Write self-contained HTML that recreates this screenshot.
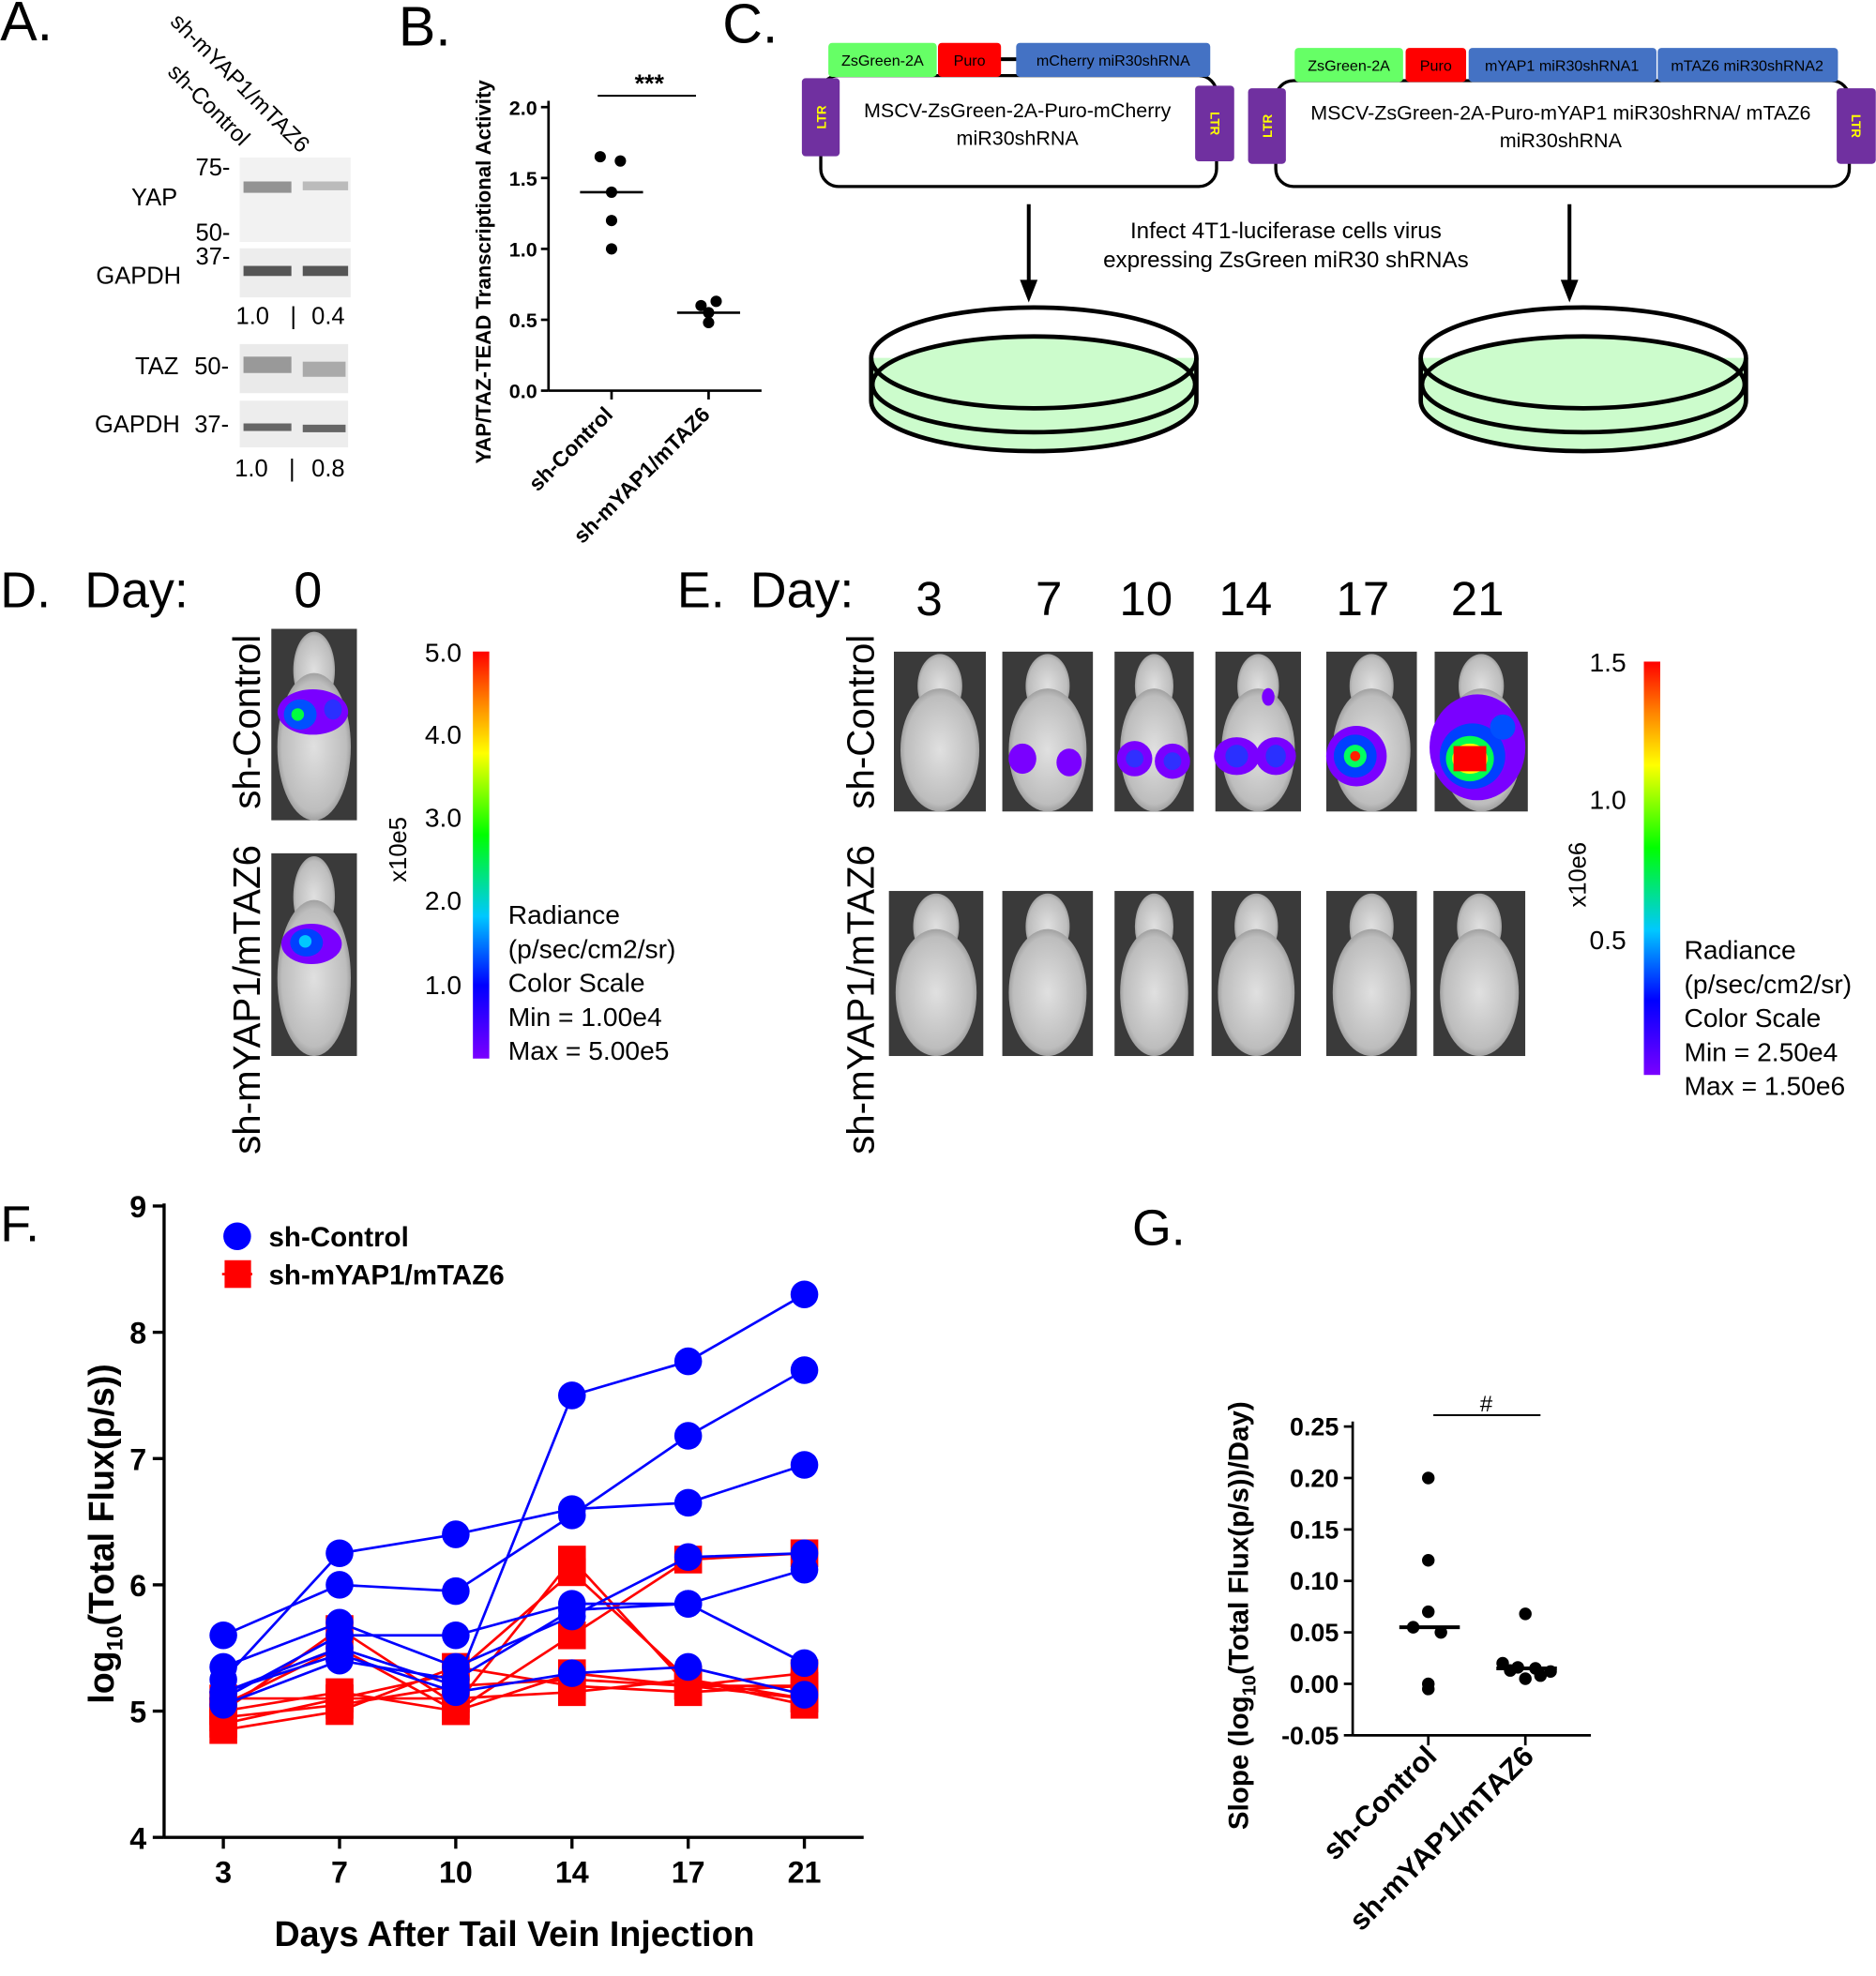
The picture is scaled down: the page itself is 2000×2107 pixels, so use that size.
<!DOCTYPE html>
<html><head><meta charset="utf-8"><style>
html,body{margin:0;padding:0;background:#fff}
svg{display:block}
text{font-family:"Liberation Sans",sans-serif}
</style></head><body>
<svg id="fig" width="2000" height="2107" viewBox="0 0 1488 1568" xmlns="http://www.w3.org/2000/svg">
<defs>
<linearGradient id="cbar" x1="0" y1="1" x2="0" y2="0">
<stop offset="0" stop-color="#7a00ff"/><stop offset="0.18" stop-color="#0000ff"/><stop offset="0.35" stop-color="#00c8ff"/><stop offset="0.55" stop-color="#00ff00"/><stop offset="0.75" stop-color="#ffff00"/><stop offset="0.88" stop-color="#ff8000"/><stop offset="1" stop-color="#ff0000"/>
</linearGradient>
<radialGradient id="mouse" cx="0.5" cy="0.5" r="0.55"><stop offset="0" stop-color="#e0e0e0"/><stop offset="0.8" stop-color="#bdbdbd"/><stop offset="1" stop-color="#8a8a8a"/></radialGradient>
<symbol id="mouseimg" viewBox="0 0 70 130" preserveAspectRatio="none">
<rect x="0" y="0" width="70" height="130" fill="#3a3a3a"/>
<ellipse cx="35" cy="28" rx="17" ry="26" fill="url(#mouse)"/>
<ellipse cx="35" cy="80" rx="30" ry="50" fill="url(#mouse)"/>
</symbol>
</defs>

<!-- Panel A -->
<g>
<text x="0" y="32" font-size="44">A.</text>
<text transform="translate(134,18) rotate(45)" font-size="18">sh-mYAP1/mTAZ6</text>
<text transform="translate(132,58) rotate(45)" font-size="18">sh-Control</text>
<rect x="190" y="125" width="88" height="67" fill="#f2f2f2"/>
<rect x="193" y="144" width="38" height="9" fill="#7a7a7a" opacity="0.8"/>
<rect x="240" y="144" width="36" height="7" fill="#bbb"/>
<rect x="190" y="197" width="88" height="39" fill="#ededed"/>
<rect x="193" y="211" width="38" height="8" fill="#555"/>
<rect x="240" y="211" width="36" height="8" fill="#555"/>
<rect x="190" y="273" width="86" height="39" fill="#eaeaea"/>
<rect x="193" y="283" width="38" height="13" fill="#999"/>
<rect x="240" y="287" width="34" height="12" fill="#aaa"/>
<rect x="190" y="318" width="86" height="37" fill="#ededed"/>
<rect x="193" y="336" width="38" height="6" fill="#666"/>
<rect x="240" y="337" width="34" height="6" fill="#666"/>
<g font-size="19">
<text x="155" y="139">75-</text><text x="155" y="191">50-</text><text x="155" y="210">37-</text>
<text x="104" y="163">YAP</text><text x="76" y="225">GAPDH</text>
<text x="187" y="257">1.0</text><text x="230" y="257">|</text><text x="247" y="257">0.4</text>
<text x="107" y="297">TAZ</text><text x="154" y="297">50-</text>
<text x="75" y="343">GAPDH</text><text x="154" y="343">37-</text>
<text x="186" y="378">1.0</text><text x="229" y="378">|</text><text x="247" y="378">0.8</text>
</g></g>

<!-- Panel B -->
<g id="panelB">
<text x="316" y="36" font-size="44">B.</text>
<text transform="translate(389,368) rotate(-90)" font-size="16.5" font-weight="bold">YAP/TAZ-TEAD Transcriptional Activity</text>
</g>

<!-- Panel C -->
<g>
<text x="573" y="34" font-size="44">C.</text>
<rect x="651" y="60" width="314" height="88" rx="14" fill="none" stroke="#000" stroke-width="2.5"/>
<line x1="790" y1="47" x2="810" y2="47" stroke="#000" stroke-width="3"/>
<rect x="657" y="34" width="86" height="27" rx="3" fill="#66ff66"/><text x="700" y="52" font-size="12" text-anchor="middle">ZsGreen-2A</text>
<rect x="744" y="34" width="50" height="27" rx="3" fill="#ff0000"/><text x="769" y="52" font-size="12" text-anchor="middle">Puro</text>
<rect x="806" y="34" width="154" height="27" rx="3" fill="#4472c4"/><text x="883" y="52" font-size="12" text-anchor="middle">mCherry miR30shRNA</text>
<rect x="636" y="62" width="30" height="62" rx="3" fill="#7030a0"/><text transform="translate(655,93) rotate(-90)" font-size="10" fill="#ff0" font-weight="bold" text-anchor="middle">LTR</text>
<rect x="948" y="68" width="31" height="60" rx="3" fill="#7030a0"/><text transform="translate(960,98) rotate(90)" font-size="10" fill="#ff0" font-weight="bold" text-anchor="middle">LTR</text>
<text x="807" y="93" font-size="16" text-anchor="middle">MSCV-ZsGreen-2A-Puro-mCherry</text>
<text x="807" y="115" font-size="16" text-anchor="middle">miR30shRNA</text>

<rect x="1012" y="64" width="455" height="84" rx="14" fill="none" stroke="#000" stroke-width="2.5"/>
<rect x="1027" y="38" width="86" height="27" rx="3" fill="#66ff66"/><text x="1070" y="56" font-size="12" text-anchor="middle">ZsGreen-2A</text>
<rect x="1115" y="38" width="48" height="27" rx="3" fill="#ff0000"/><text x="1139" y="56" font-size="12" text-anchor="middle">Puro</text>
<rect x="1165" y="38" width="149" height="27" rx="3" fill="#4472c4"/><text x="1239" y="56" font-size="12" text-anchor="middle">mYAP1 miR30shRNA1</text>
<rect x="1315" y="38" width="143" height="27" rx="3" fill="#4472c4"/><text x="1386" y="56" font-size="12" text-anchor="middle">mTAZ6 miR30shRNA2</text>
<rect x="990" y="70" width="30" height="60" rx="3" fill="#7030a0"/><text transform="translate(1009,100) rotate(-90)" font-size="10" fill="#ff0" font-weight="bold" text-anchor="middle">LTR</text>
<rect x="1457" y="70" width="31" height="60" rx="3" fill="#7030a0"/><text transform="translate(1469,100) rotate(90)" font-size="10" fill="#ff0" font-weight="bold" text-anchor="middle">LTR</text>
<text x="1238" y="95" font-size="16" text-anchor="middle">MSCV-ZsGreen-2A-Puro-mYAP1 miR30shRNA/ mTAZ6</text>
<text x="1238" y="117" font-size="16" text-anchor="middle">miR30shRNA</text>

<line x1="816" y1="162" x2="816" y2="225" stroke="#000" stroke-width="3"/><polygon points="809,222 823,222 816,240" fill="#000"/>
<line x1="1245" y1="162" x2="1245" y2="225" stroke="#000" stroke-width="3"/><polygon points="1238,222 1252,222 1245,240" fill="#000"/>
<text x="1020" y="189" font-size="18" text-anchor="middle">Infect 4T1-luciferase cells virus</text>
<text x="1020" y="212" font-size="18" text-anchor="middle">expressing ZsGreen miR30 shRNAs</text>
<g stroke="#000" stroke-width="3.5">
<path d="M691,284 L691,318 A129,40 0 0 0 949,318 L949,284" fill="#ccfccc"/>
<ellipse cx="820" cy="305" rx="128" ry="38" fill="#ccfccc"/>
<ellipse cx="820" cy="284" rx="129" ry="40" fill="none"/>
<path d="M1127,284 L1127,318 A129,40 0 0 0 1385,318 L1385,284" fill="#ccfccc"/>
<ellipse cx="1256" cy="305" rx="128" ry="38" fill="#ccfccc"/>
<ellipse cx="1256" cy="284" rx="129" ry="40" fill="none"/>
</g></g>

<!-- Panel D -->
<g>
<text x="0" y="482" font-size="40">D.</text>
<text x="67" y="482" font-size="40">Day:</text>
<text x="233" y="482" font-size="40">0</text>
<text transform="translate(206,642) rotate(-90)" font-size="30">sh-Control</text>
<text transform="translate(206,916) rotate(-90)" font-size="30">sh-mYAP1/mTAZ6</text>
<use href="#mouseimg" x="215" y="499" width="68" height="152"/>
<ellipse cx="248" cy="565" rx="28" ry="18" fill="#7a00ff"/><ellipse cx="238" cy="567" rx="13" ry="12" fill="#0050ff"/><ellipse cx="236" cy="567" rx="5" ry="5" fill="#00ff40"/><ellipse cx="264" cy="563" rx="7" ry="8" fill="#2a30ff"/>
<use href="#mouseimg" x="215" y="677" width="68" height="161"/>
<ellipse cx="247" cy="749" rx="24" ry="16" fill="#7a00ff"/><ellipse cx="243" cy="748" rx="13" ry="11" fill="#0040ff"/><ellipse cx="242" cy="747" rx="5" ry="5" fill="#00c8ff"/>
<rect x="375" y="517" width="13" height="323" fill="url(#cbar)"/>
<g font-size="21" text-anchor="end"><text x="366" y="525">5.0</text><text x="366" y="590">4.0</text><text x="366" y="656">3.0</text><text x="366" y="722">2.0</text><text x="366" y="789">1.0</text></g>
<text transform="translate(322,700) rotate(-90)" font-size="19">x10e5</text>
<g font-size="21"><text x="403" y="733">Radiance</text><text x="403" y="760">(p/sec/cm2/sr)</text><text x="403" y="787">Color Scale</text><text x="403" y="814">Min = 1.00e4</text><text x="403" y="841">Max = 5.00e5</text></g>
</g>

<!-- Panel E -->
<g>
<text x="537" y="482" font-size="40">E.</text>
<text x="595" y="482" font-size="40">Day:</text>
<g font-size="38" text-anchor="middle"><text x="737" y="488">3</text><text x="832" y="488">7</text><text x="909" y="488">10</text><text x="988" y="488">14</text><text x="1081" y="488">17</text><text x="1172" y="488">21</text></g>
<text transform="translate(693,642) rotate(-90)" font-size="30">sh-Control</text>
<text transform="translate(693,916) rotate(-90)" font-size="30">sh-mYAP1/mTAZ6</text>
<use href="#mouseimg" x="709" y="517" width="73" height="127"/><use href="#mouseimg" x="795" y="517" width="72" height="127"/><use href="#mouseimg" x="884" y="517" width="63" height="127"/><use href="#mouseimg" x="964" y="517" width="68" height="127"/><use href="#mouseimg" x="1052" y="517" width="72" height="127"/><use href="#mouseimg" x="1138" y="517" width="74" height="127"/>
<use href="#mouseimg" x="705" y="707" width="75" height="131"/><use href="#mouseimg" x="795" y="707" width="72" height="131"/><use href="#mouseimg" x="884" y="707" width="63" height="131"/><use href="#mouseimg" x="961" y="707" width="71" height="131"/><use href="#mouseimg" x="1052" y="707" width="72" height="131"/><use href="#mouseimg" x="1137" y="707" width="73" height="131"/>
<ellipse cx="811" cy="602" rx="11" ry="12" fill="#7a00ff"/><ellipse cx="848" cy="605" rx="10" ry="11" fill="#7a00ff"/>
<ellipse cx="900" cy="602" rx="14" ry="14" fill="#7a00ff"/><ellipse cx="930" cy="604" rx="14" ry="14" fill="#7a00ff"/><ellipse cx="900" cy="602" rx="7" ry="7" fill="#3030ff"/><ellipse cx="930" cy="604" rx="7" ry="7" fill="#3030ff"/>
<ellipse cx="981" cy="600" rx="18" ry="15" fill="#7a00ff"/><ellipse cx="1012" cy="600" rx="16" ry="15" fill="#7a00ff"/><ellipse cx="981" cy="600" rx="9" ry="9" fill="#2a30ff"/><ellipse cx="1012" cy="600" rx="8" ry="9" fill="#2a30ff"/><ellipse cx="1006" cy="553" rx="5" ry="7" fill="#7a00ff"/>
<ellipse cx="1076" cy="600" rx="24" ry="24" fill="#7a00ff"/><ellipse cx="1075" cy="600" rx="17" ry="17" fill="#0040ff"/><ellipse cx="1075" cy="600" rx="9" ry="9" fill="#00ff60"/><ellipse cx="1075" cy="600" rx="4" ry="4" fill="#ff2000"/>
<ellipse cx="1172" cy="593" rx="38" ry="42" fill="#7a00ff"/><ellipse cx="1168" cy="600" rx="26" ry="26" fill="#0040ff"/><ellipse cx="1166" cy="602" rx="19" ry="18" fill="#00ff50"/><ellipse cx="1166" cy="602" rx="14" ry="12" fill="#ffff00"/><rect x="1153" y="592" width="26" height="20" fill="#ff0000"/><ellipse cx="1192" cy="577" rx="10" ry="10" fill="#0050ff"/>
<rect x="1304" y="525" width="13" height="328" fill="url(#cbar)"/>
<g font-size="21" text-anchor="end"><text x="1290" y="533">1.5</text><text x="1290" y="642">1.0</text><text x="1290" y="753">0.5</text></g>
<text transform="translate(1258,720) rotate(-90)" font-size="19">x10e6</text>
<g font-size="21"><text x="1336" y="761">Radiance</text><text x="1336" y="788">(p/sec/cm2/sr)</text><text x="1336" y="815">Color Scale</text><text x="1336" y="842">Min = 2.50e4</text><text x="1336" y="869">Max = 1.50e6</text></g>
</g>

<!-- Panel F -->
<g id="panelF">
<text x="0" y="985" font-size="40">F.</text>
<text transform="translate(90,1352) rotate(-90)" font-size="28" font-weight="bold">log<tspan font-size="18" dy="7">10</tspan><tspan dy="-7">(Total Flux(p/s))</tspan></text>
<text x="408" y="1544" font-size="28" font-weight="bold" text-anchor="middle">Days After Tail Vein Injection</text>
<circle cx="188" cy="981" r="11" fill="#0000ff"/><text x="213" y="989" font-size="22" font-weight="bold">sh-Control</text>
<line x1="176" y1="1011" x2="200" y2="1011" stroke="#f00" stroke-width="2"/><rect x="178" y="1000" width="21" height="22" fill="#f00"/><text x="213" y="1019" font-size="22" font-weight="bold">sh-mYAP1/mTAZ6</text>
</g>

<!-- Panel G -->
<g id="panelG">
<text x="898" y="988" font-size="40">G.</text>
<text transform="translate(990,1452) rotate(-90)" font-size="22" font-weight="bold">Slope (log<tspan font-size="15" dy="6">10</tspan><tspan dy="-6">(Total Flux(p/s))/Day)</tspan></text>
</g>

<script>
var NS="http://www.w3.org/2000/svg";
function el(tag,attrs,parent,txt){var e=document.createElementNS(NS,tag);for(var k in attrs)e.setAttribute(k,attrs[k]);if(txt!==undefined)e.textContent=txt;parent.appendChild(e);return e;}

/* ---- Panel B data ---- */
var bCats=["sh-Control","sh-mYAP1/mTAZ6"];
var bControl=[1.65,1.62,1.4,1.2,1.0];
var bKnock=[0.63,0.6,0.55,0.48];
var bMedians=[1.4,0.55];
var bTicks=[0.0,0.5,1.0,1.5,2.0];
/* ---- Panel F data ---- */
var fDays=[3,7,10,14,17,21];
var fBlue1=[5.15,5.5,5.2,7.5,7.77,8.3];
var fBlue2=[5.6,6.0,5.95,6.55,7.18,7.7];
var fBlue3=[5.25,6.25,6.4,6.6,6.65,6.95];
var fBlue4=[5.1,5.6,5.6,5.85,5.85,5.38];
var fBlue5=[5.35,5.7,5.35,5.75,6.22,6.25];
var fBlue6=[5.15,5.45,5.15,5.3,5.35,5.13];
var fBlue7=[5.05,5.4,5.25,5.8,5.85,6.12];
var fRed1=[5.0,5.65,5.05,6.2,5.2,5.2];
var fRed2=[4.9,5.1,5.3,6.1,5.25,5.1];
var fRed3=[5.05,5.5,5.0,5.6,6.2,6.25];
var fRed4=[4.95,5.05,5.2,5.25,5.2,5.3];
var fRed5=[5.1,5.1,5.1,5.15,5.25,5.05];
var fRed6=[4.85,5.0,5.35,5.2,5.15,5.2];
var fRed7=[5.0,5.15,5.0,5.3,5.2,5.1];
var fYTicks=[4,5,6,7,8,9];
/* ---- Panel G data ---- */
var gCats=["sh-Control","sh-mYAP1/mTAZ6"];
var gControl=[0.2,0.12,0.07,0.055,0.05,0.0,-0.005];
var gKnock=[0.068,0.02,0.016,0.015,0.012,0.013,0.005,0.008];
var gMedians=[0.055,0.015];
var gTicks=[-0.05,0.0,0.05,0.10,0.15,0.20,0.25];
var gTickLabels=["-0.05","0.00","0.05","0.10","0.15","0.20","0.25"];

/* Panel B */
(function(){
var g=document.getElementById("panelB");
var y=function(v){return 310-v*112.5;};
var xc=[485,562];
el("line",{x1:435,y1:80,x2:435,y2:310,stroke:"#000","stroke-width":2},g);
el("line",{x1:435,y1:310,x2:604,y2:310,stroke:"#000","stroke-width":2},g);
bTicks.forEach(function(t){
 el("line",{x1:429,y1:y(t),x2:435,y2:y(t),stroke:"#000","stroke-width":2},g);
 var tx=el("text",{x:426,y:y(t)+6,"font-size":16,"font-weight":"bold","text-anchor":"end"},g,t.toFixed(1));
 
 
});
bCats.forEach(function(c,i){
 el("line",{x1:xc[i],y1:310,x2:xc[i],y2:317,stroke:"#000","stroke-width":2},g);
 var tx=el("text",{transform:"translate("+(xc[i]+2)+",330) rotate(-45)","font-size":17,"font-weight":"bold","text-anchor":"end"},g,c);
 
 
});
bControl.forEach(function(v,i){var c=el("circle",{cx:xc[0]+[-9,7,0,0,0][i],cy:y(v),r:4.5,fill:"#000"},g);
 
 });
bKnock.forEach(function(v,i){var c=el("circle",{cx:xc[1]+[6,-6,0,0][i],cy:y(v),r:4.5,fill:"#000"},g);
 
 });
bMedians.forEach(function(v,i){var l=el("line",{x1:xc[i]-25,y1:y(v),x2:xc[i]+25,y2:y(v),stroke:"#000","stroke-width":2},g);
 
 });
el("line",{x1:474,y1:76,x2:552,y2:76,stroke:"#000","stroke-width":1.5},g);
el("text",{x:515,y:73,"font-size":20,"font-weight":"bold","text-anchor":"middle"},g,"***");
})();

/* Panel F */
(function(){
var g=document.getElementById("panelF");
var x0=130,x1=685,yb=1458;
var xs=function(d){return 177+fDays.indexOf(d)*92.2;};
var ys=function(v){return yb-(v-4)*100.2;};
el("line",{x1:x0,y1:955,x2:x0,y2:yb,stroke:"#000","stroke-width":2.5},g);
el("line",{x1:x0,y1:yb,x2:x1,y2:yb,stroke:"#000","stroke-width":2.5},g);
fYTicks.forEach(function(t){
 el("line",{x1:x0-9,y1:ys(t),x2:x0,y2:ys(t),stroke:"#000","stroke-width":2.5},g);
 var tx=el("text",{x:x0-14,y:ys(t)+9,"font-size":24,"font-weight":"bold","text-anchor":"end"},g,t);
 
 
});
fDays.forEach(function(d){
 el("line",{x1:xs(d),y1:yb,x2:xs(d),y2:yb+9,stroke:"#000","stroke-width":2.5},g);
 var tx=el("text",{x:xs(d),y:yb+36,"font-size":24,"font-weight":"bold","text-anchor":"middle"},g,d);
 
 
});
var reds=[fRed1,fRed2,fRed3,fRed4,fRed5,fRed6,fRed7];
var blues=[fBlue1,fBlue2,fBlue3,fBlue4,fBlue5,fBlue6,fBlue7];
function pts(s){return s.map(function(v,i){return xs(fDays[i])+","+ys(v);}).join(" ");}
reds.forEach(function(s){
 var p=el("polyline",{points:pts(s),fill:"none",stroke:"#ff0000","stroke-width":2},g);
 
 
 s.forEach(function(v,i){var r=el("rect",{x:xs(fDays[i])-11,y:ys(v)-11,width:22,height:22,fill:"#ff0000"},g);
  
  });
});
blues.forEach(function(s){
 var p=el("polyline",{points:pts(s),fill:"none",stroke:"#0000ff","stroke-width":2},g);
 
 
 s.forEach(function(v,i){var c=el("circle",{cx:xs(fDays[i]),cy:ys(v),r:11,fill:"#0000ff"},g);
  
  });
});
})();

/* Panel G */
(function(){
var g=document.getElementById("panelG");
var y=function(v){return 1377-(v+0.05)*816.7;};
var xc=[1133,1210];
el("line",{x1:1073,y1:1128,x2:1073,y2:1377,stroke:"#000","stroke-width":2},g);
el("line",{x1:1073,y1:1377,x2:1262,y2:1377,stroke:"#000","stroke-width":2},g);
gTicks.forEach(function(t,i){
 el("line",{x1:1066,y1:y(t),x2:1073,y2:y(t),stroke:"#000","stroke-width":2},g);
 var tx=el("text",{x:1062,y:y(t)+7,"font-size":20,"font-weight":"bold","text-anchor":"end"},g,gTickLabels[i]);
 
 
});
gCats.forEach(function(c,i){
 el("line",{x1:xc[i],y1:1377,x2:xc[i],y2:1385,stroke:"#000","stroke-width":2},g);
 var tx=el("text",{transform:"translate("+(xc[i]+8)+",1395) rotate(-45)","font-size":23,"font-weight":"bold","text-anchor":"end"},g,c);
 
 
});
var cOff=[0,0,0,-12,10,0,0];
gControl.forEach(function(v,i){var c=el("circle",{cx:xc[0]+cOff[i],cy:y(v),r:5,fill:"#000"},g);
 
 });
var kOff=[0,-18,-6,8,20,-12,0,12];
gKnock.forEach(function(v,i){var c=el("circle",{cx:xc[1]+kOff[i],cy:y(v),r:5,fill:"#000"},g);
 
 });
gMedians.forEach(function(v,i){var l=el("line",{x1:xc[i]-23,y1:y(v),x2:xc[i]+25,y2:y(v),stroke:"#000","stroke-width":3},g);
 
 });
el("line",{x1:1137,y1:1123,x2:1222,y2:1123,stroke:"#000","stroke-width":1.5},g);
el("text",{x:1179,y:1120,"font-size":18,"text-anchor":"middle"},g,"#");
})();
</script>
</svg>
</body></html>
